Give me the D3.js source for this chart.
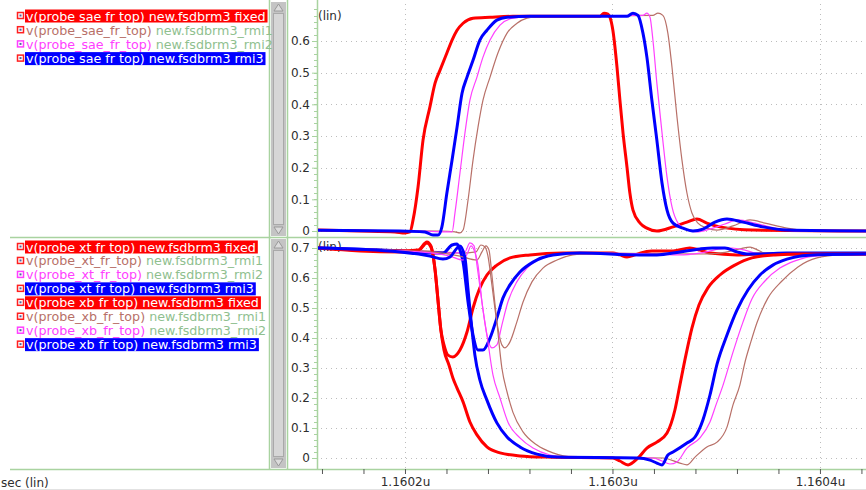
<!DOCTYPE html>
<html><head><meta charset="utf-8">
<script src="https://cdn.jsdelivr.net/npm/d3@7"></script>
<style>
body{margin:0;background:#fff;}
svg{display:block;font-family:"DejaVu Sans",sans-serif;}
</style>
</head><body>
<svg id="chart" width="866" height="490"></svg>
<script>
// Time is in ps after 1.1602u; voltages in V.
const runs = ["fixed", "rmi1", "rmi2", "rmi3"];
const runColors = ["#ff0000", "#b87068", "#ff40ff", "#0000ff"];
const runWidths = [3, 1.2, 1.2, 3];
const highlighted = [true, false, false, true];
const topSignals = ["v(probe_sae_fr_top)"];
const bottomSignals = ["v(probe_xt_fr_top)", "v(probe_xb_fr_top)"];
const libName = "new.fsdbrm3";
const xMajorTicks = [0, 100, 200];
const xTickLabels = ["1.1602u", "1.1603u", "1.1604u"];
const xMinorTicks = [-40, -20, 20, 40, 60, 80, 120, 140, 160, 180, 220];
const topYTicks = [0, 0.1, 0.2, 0.3, 0.4, 0.5, 0.6];
const bottomYTicks = [0, 0.1, 0.2, 0.3, 0.4, 0.5, 0.6, 0.7];
const xAxisTitle = "sec (lin)";
const yAxisTitle = "(lin)";

// v(probe_sae_fr_top)
const saeFixed = [[-42.4,0.003],[-21.7,0.0],[-4.8,-0.003],[0,-0.006],[2.4,-0.003],[3.9,0.035],[6.3,0.139],[8.7,0.287],[12.0,0.391],[14.5,0.467],[16.9,0.508],[20.2,0.562],[22.7,0.603],[25.1,0.634],[28.0,0.656],[32.8,0.672],[41.0,0.675],[52.0,0.678],[94.0,0.678],[95.9,0.688],[97.8,0.685],[98.8,0.675],[100.2,0.634],[102.2,0.517],[103.6,0.413],[105.1,0.309],[107.0,0.202],[108.4,0.120],[109.9,0.066],[113.3,0.025],[116.6,0.009],[121.4,0.0],[129.2,0.013],[135.9,0.028],[140.7,0.038],[145.5,0.025],[151.8,0.013],[167.7,0.003],[222.2,0.0]];
const saeRmi1 = [[-42.4,0.002],[16.9,0.0],[24.1,-0.003],[26.5,-0.006],[28.0,0.003],[30.4,0.098],[32.8,0.224],[35.2,0.328],[37.6,0.413],[41.0,0.486],[44.8,0.562],[49.2,0.625],[54.0,0.656],[58.8,0.672],[65.1,0.678],[119.5,0.681],[121.9,0.688],[124.3,0.681],[126.7,0.625],[128.7,0.517],[131.1,0.360],[133.5,0.224],[135.9,0.120],[138.3,0.057],[141.2,0.025],[145.5,0.009],[150.4,0.003],[158.1,0.016],[166.3,0.035],[173.5,0.025],[184.1,0.009],[195.2,0.0],[222.2,0.0]];
const saeRmi2 = [[-42.4,0.002],[7.2,0.0],[19.3,-0.003],[22.7,-0.003],[24.1,0.057],[26.5,0.183],[28.9,0.309],[31.3,0.413],[34.7,0.486],[37.6,0.549],[41.0,0.603],[45.8,0.650],[52.0,0.672],[61.7,0.678],[114.7,0.681],[116.6,0.688],[118.1,0.675],[119.5,0.603],[121.4,0.467],[123.9,0.309],[126.3,0.170],[128.7,0.076],[131.6,0.025],[135.9,0.003],[140.7,-0.003],[147.0,0.006],[154.2,0.022],[160.5,0.035],[168.7,0.025],[178.3,0.009],[190.4,0.0],[222.2,0.0]];
const saeRmi3 = [[-42.4,0.002],[-2.4,0.0],[9.6,-0.003],[13.5,-0.013],[15.9,-0.013],[17.8,0.013],[20.2,0.120],[22.7,0.224],[25.1,0.328],[27.5,0.435],[29.9,0.486],[32.8,0.539],[36.1,0.603],[39.5,0.634],[44.3,0.666],[49.2,0.675],[60.2,0.678],[107.0,0.678],[109.9,0.688],[112.3,0.681],[114.7,0.625],[116.6,0.549],[119.0,0.413],[121.4,0.287],[123.9,0.151],[126.3,0.066],[129.2,0.025],[134.0,0.009],[138.8,0.0],[143.6,0.006],[149.4,0.028],[155.2,0.038],[162.9,0.028],[172.5,0.013],[184.1,0.003],[222.2,0.0]];

// v(probe_xt_fr_top)
const xtFixed = [[-42.4,0.700],[-21.7,0.690],[-2.4,0.687],[6.3,0.690],[10.6,0.717],[12.5,0.703],[14.5,0.627],[15.9,0.527],[17.3,0.427],[18.8,0.377],[20.7,0.343],[23.1,0.337],[26.5,0.360],[29.9,0.420],[32.8,0.500],[36.1,0.567],[39.5,0.610],[44.3,0.643],[50.6,0.667],[60.2,0.677],[76.1,0.683],[100.2,0.683],[103.6,0.677],[107.0,0.670],[110.8,0.677],[113.3,0.683],[119.0,0.690],[129.2,0.690],[137.3,0.700],[142.2,0.693],[147.0,0.683],[160.0,0.677],[171.1,0.680],[222.2,0.680]];
const xtRmi1 = [[-42.4,0.700],[12.0,0.690],[26.5,0.683],[34.2,0.687],[36.6,0.710],[38.6,0.703],[40.0,0.673],[41.9,0.577],[44.3,0.453],[46.7,0.377],[48.2,0.367],[50.6,0.387],[53.9,0.453],[56.9,0.520],[61.2,0.587],[66.5,0.633],[73.3,0.660],[80.9,0.677],[94.0,0.683],[142.2,0.680],[151.8,0.683],[161.4,0.697],[166.3,0.703],[170.1,0.693],[174.9,0.680],[222.2,0.680]];
const xtRmi2 = [[-42.4,0.700],[7.2,0.690],[21.7,0.683],[28.9,0.687],[31.3,0.717],[33.3,0.707],[34.7,0.643],[37.1,0.520],[39.5,0.410],[41.9,0.367],[44.3,0.377],[46.7,0.443],[49.6,0.520],[53.9,0.587],[58.8,0.633],[66.5,0.667],[78.1,0.680],[94.0,0.683],[118.1,0.680],[132.5,0.677],[142.2,0.683],[151.8,0.697],[157.6,0.700],[163.9,0.693],[171.1,0.680],[222.2,0.683]];
const xtRmi3 = [[-42.4,0.700],[-2.4,0.690],[12.0,0.683],[18.3,0.683],[22.7,0.710],[25.1,0.713],[26.5,0.693],[28.0,0.653],[30.4,0.520],[32.8,0.410],[35.2,0.360],[37.6,0.360],[41.0,0.400],[44.3,0.467],[47.2,0.533],[50.6,0.577],[55.4,0.620],[61.7,0.653],[71.3,0.677],[84.3,0.683],[113.3,0.677],[121.4,0.677],[132.5,0.687],[142.2,0.697],[148.4,0.700],[154.2,0.700],[160.0,0.687],[164.8,0.680],[171.1,0.680],[184.1,0.683],[222.2,0.683]];

// v(probe_xb_fr_top)
const xbFixed = [[-42.4,0.700],[-21.7,0.693],[-2.4,0.690],[6.3,0.693],[10.6,0.720],[12.5,0.707],[14.5,0.627],[15.9,0.527],[17.3,0.427],[18.8,0.360],[21.2,0.310],[23.1,0.267],[25.1,0.233],[28.0,0.187],[31.3,0.120],[34.7,0.077],[39.5,0.037],[45.8,0.017],[55.4,0.007],[68.4,0.003],[100.2,0.0],[103.6,-0.010],[107.5,-0.023],[112.3,0.0],[116.6,0.033],[121.4,0.053],[126.3,0.083],[130.1,0.160],[132.5,0.243],[135.4,0.343],[138.3,0.433],[141.7,0.510],[146.0,0.567],[151.8,0.610],[159.0,0.643],[167.2,0.667],[178.3,0.677],[190.4,0.680],[222.2,0.680]];
const xbRmi1 = [[-42.4,0.700],[12.0,0.687],[26.5,0.673],[34.7,0.660],[37.1,0.687],[39.0,0.707],[40.5,0.693],[41.9,0.610],[44.3,0.453],[46.7,0.300],[49.2,0.220],[52.0,0.153],[56.9,0.087],[63.6,0.043],[71.3,0.017],[80.9,0.003],[124.3,0.0],[132.5,-0.017],[135.9,-0.023],[139.8,0.003],[145.5,0.037],[150.4,0.053],[155.2,0.103],[158.1,0.177],[161.4,0.243],[163.9,0.320],[166.7,0.387],[169.6,0.450],[174.9,0.533],[181.7,0.590],[189.4,0.637],[198.6,0.667],[209.6,0.677],[222.2,0.680]];
const xbRmi2 = [[-42.4,0.700],[7.2,0.687],[21.7,0.673],[28.0,0.660],[30.4,0.687],[31.8,0.707],[33.3,0.693],[35.2,0.643],[37.1,0.520],[39.5,0.410],[42.4,0.277],[45.8,0.200],[49.6,0.120],[55.4,0.067],[61.7,0.033],[69.9,0.010],[78.1,0.003],[119.5,0.0],[123.9,-0.010],[127.7,-0.020],[131.1,-0.013],[135.9,0.033],[142.2,0.067],[147.0,0.120],[149.9,0.177],[153.3,0.243],[158.1,0.353],[162.9,0.453],[167.2,0.530],[173.5,0.590],[180.7,0.633],[188.0,0.657],[197.6,0.673],[222.2,0.680]];
const xbRmi3 = [[-42.4,0.700],[-2.4,0.687],[12.0,0.673],[18.3,0.663],[21.7,0.670],[25.1,0.700],[26.5,0.707],[28.9,0.667],[30.4,0.560],[32.3,0.427],[33.7,0.343],[36.1,0.260],[39.5,0.193],[44.3,0.117],[49.2,0.070],[55.4,0.037],[63.6,0.013],[73.3,0.003],[111.8,0.0],[118.1,-0.007],[121.4,-0.017],[123.9,-0.023],[126.7,0.010],[129.2,0.020],[135.9,0.050],[139.8,0.070],[143.6,0.127],[147.0,0.210],[150.4,0.313],[155.2,0.410],[160.0,0.493],[165.3,0.560],[171.1,0.610],[177.3,0.643],[184.1,0.663],[196.6,0.677],[222.2,0.680]];

const topSeries = [saeFixed, saeRmi1, saeRmi2, saeRmi3];
const bottomSeries = [[xtFixed, xtRmi1, xtRmi2, xtRmi3], [xbFixed, xbRmi1, xbRmi2, xbRmi3]];

const svg = d3.select("#chart");
const W = 866;
const green = "#a9d3a0";
const gridColor = "#bdbdbd";
const textColor = "#2e2e2e";
const nameGreen = "#8fbf8f";
const legendFont = 12.7;

const plotLeft = 317, plotRight = W;
const panels = [
  {top: 0, bottom: 237, y: d3.scaleLinear().domain([0, 0.6]).range([231, 41]), ticks: topYTicks, max: 0.7},
  {top: 238, bottom: 469, y: d3.scaleLinear().domain([0, 0.7]).range([458, 248]), ticks: bottomYTicks, max: 0.7}
];
const x = d3.scaleLinear().domain([-42.4, 222.2]).range([plotLeft, plotRight]);

// clip regions for each waveform pane
const defs = svg.append("defs");
panels.forEach((p, i) => {
  defs.append("clipPath").attr("id", "clip" + i)
    .append("rect").attr("x", plotLeft + 1).attr("y", p.top)
    .attr("width", plotRight - plotLeft).attr("height", p.bottom - p.top);
});

// grid
panels.forEach((p, i) => {
  const g = svg.append("g");
  g.selectAll("line.h").data(p.ticks).join("line")
    .attr("x1", plotLeft + 4).attr("x2", plotRight)
    .attr("y1", d => Math.round(p.y(d)) + 0.5).attr("y2", d => Math.round(p.y(d)) + 0.5)
    .attr("stroke", gridColor).attr("stroke-width", 1).attr("stroke-dasharray", "1,4");
  g.selectAll("line.v").data(xMajorTicks).join("line")
    .attr("x1", d => Math.round(x(d)) + 0.5).attr("x2", d => Math.round(x(d)) + 0.5)
    .attr("y1", p.top + 4).attr("y2", p.bottom)
    .attr("stroke", gridColor).attr("stroke-width", 1).attr("stroke-dasharray", "1,4");
});

// y axes
panels.forEach((p, i) => {
  const ax = svg.append("g").attr("transform", `translate(${plotLeft},0)`)
    .call(d3.axisLeft(p.y).tickValues(p.ticks).tickSize(5).tickPadding(2)
      .tickFormat(d => d === 0 ? "0" : d3.format(".1f")(d)));
  ax.select(".domain").remove();
  ax.selectAll(".tick line").attr("stroke", green);
  ax.selectAll(".tick text").attr("fill", textColor).attr("font-size", 12)
    .attr("font-family", "DejaVu Sans");
  const minor = d3.range(0, Math.round(p.max * 50) + 1).map(k => k / 50);
  svg.append("g").selectAll("line").data(minor).join("line")
    .attr("x1", plotLeft - 3).attr("x2", plotLeft)
    .attr("y1", d => Math.round(p.y(d)) + 0.5).attr("y2", d => Math.round(p.y(d)) + 0.5)
    .attr("stroke", green);
  svg.append("text").attr("x", plotLeft + 1).attr("y", p.top + (i === 0 ? 20 : 13))
    .attr("font-size", 12).attr("fill", textColor).text(yAxisTitle);
});

// frame lines
svg.append("line").attr("x1", plotLeft + 0.5).attr("x2", plotLeft + 0.5).attr("y1", 0).attr("y2", 469)
  .attr("stroke", green).attr("stroke-width", 1.5);
svg.append("line").attr("x1", 10).attr("x2", W).attr("y1", 237.5).attr("y2", 237.5)
  .attr("stroke", green).attr("stroke-width", 1.5);
svg.append("line").attr("x1", 10).attr("x2", W).attr("y1", 469.5).attr("y2", 469.5)
  .attr("stroke", green).attr("stroke-width", 1.5);
[269.5, 287.5].forEach(xx => svg.append("line").attr("x1", xx).attr("x2", xx)
  .attr("y1", 0).attr("y2", 469).attr("stroke", green).attr("stroke-width", 1.5));

// scrollbars
function scrollbar(y0, y1) {
  const g = svg.append("g");
  g.append("rect").attr("x", 271).attr("y", y0).attr("width", 15).attr("height", y1 - y0).attr("fill", "#c4c4c4");
  g.append("rect").attr("x", 273.5).attr("y", y0 + 11.5).attr("width", 10).attr("height", y1 - y0 - 23)
    .attr("fill", "#d6d6d6").attr("stroke", "#a9a9a9");
  g.append("path").attr("d", `M274,${y0 + 9}L278.5,${y0 + 2}L283,${y0 + 9}Z`).attr("fill", "#dcdcdc").attr("stroke", "#9a9a9a");
  g.append("path").attr("d", `M274,${y1 - 9}L278.5,${y1 - 2}L283,${y1 - 9}Z`).attr("fill", "#dcdcdc").attr("stroke", "#9a9a9a");
}
scrollbar(2, 236);
scrollbar(239, 468);

// x axis
const xAxis = svg.append("g").attr("transform", "translate(0,469)")
  .call(d3.axisBottom(x).tickValues(xMajorTicks.concat(xMinorTicks)).tickSize(5).tickPadding(3)
    .tickFormat(d => { const k = xMajorTicks.indexOf(d); return k >= 0 ? xTickLabels[k] : ""; }));
xAxis.select(".domain").remove();
xAxis.selectAll(".tick line").attr("stroke", "#555");
xAxis.selectAll(".tick text").attr("fill", textColor).attr("font-size", 12).attr("font-family", "DejaVu Sans");
svg.append("text").attr("x", 1).attr("y", 487).attr("font-size", 12).attr("fill", textColor).text(xAxisTitle);
svg.append("line").attr("x1", 10).attr("x2", W).attr("y1", 489.5).attr("y2", 489.5).attr("stroke", "#e2e2e2");

// waveforms
const line = (yS) => d3.line().x(d => x(d[0])).y(d => yS(d[1])).curve(d3.curveMonotoneX);
function drawSet(series, p, i) {
  const g = svg.append("g").attr("clip-path", `url(#clip${i})`);
  series.forEach((s, k) => {
    g.append("path").datum(s).attr("d", line(p.y))
      .attr("fill", "none").attr("stroke", runColors[k]).attr("stroke-width", runWidths[k])
      .attr("stroke-linejoin", "round").attr("stroke-linecap", "round");
  });
}
drawSet(topSeries, panels[0], 0);
bottomSeries.forEach(s => drawSet(s, panels[1], 1));

// legend rows
function legendRow(signal, k, yc) {
  const g = svg.append("g");
  g.append("rect").attr("x", 17.5).attr("y", yc - 3.5).attr("width", 6).attr("height", 6)
    .attr("fill", "#fff").attr("stroke", k === 2 ? "#ff40ff" : "#ff2020").attr("stroke-width", 1.5);
  g.append("rect").attr("x", 19.5).attr("y", yc - 1.5).attr("width", 2).attr("height", 2).attr("fill", "#5060a0");
  if (highlighted[k]) {
    const label = (signal + " " + libName + "_" + runs[k]).replace(/_/g, " ");
    const bg = g.append("rect").attr("x", 25).attr("y", yc - 6.5).attr("height", 13).attr("fill", runColors[k]);
    const t = g.append("text").attr("x", 26).attr("y", yc + 4.5).attr("font-size", legendFont)
      .attr("fill", "#fff").text(label);
    bg.attr("width", t.node().getComputedTextLength() + 3);
  } else {
    const t = g.append("text").attr("x", 26).attr("y", yc + 4.5).attr("font-size", legendFont);
    t.append("tspan").attr("fill", runColors[k]).text(signal);
    t.append("tspan").attr("fill", nameGreen).text(" " + libName + "_" + runs[k]);
  }
}
topSignals.forEach((s, si) => runs.forEach((r, k) => legendRow(s, k, 16 + (si * 4 + k) * 14.2)));
bottomSignals.forEach((s, si) => runs.forEach((r, k) => legendRow(s, k, 247 + (si * 4 + k) * 13.95)));
</script>
</body></html>
